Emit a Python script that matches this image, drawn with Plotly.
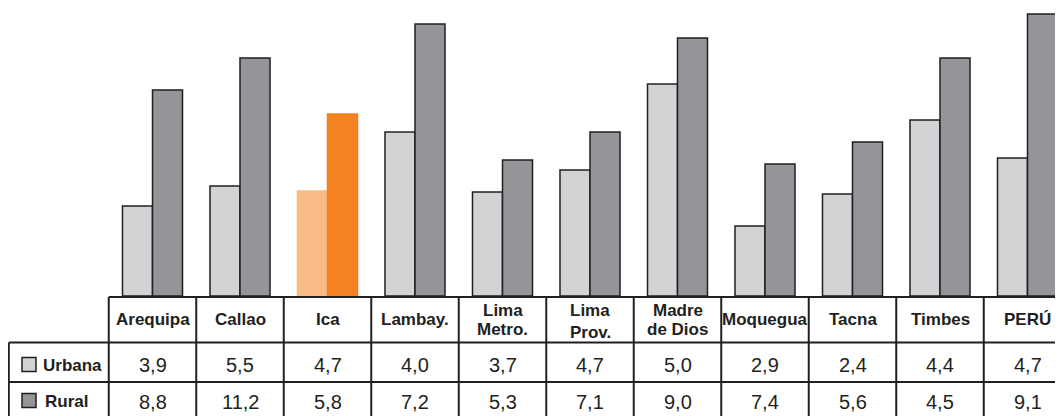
import plotly.graph_objects as go

# ---------------- data ----------------
categories = ["Arequipa", "Callao", "Ica", "Lambay.", "Lima Metro.", "Lima Prov.",
              "Madre de Dios", "Moquegua", "Tacna", "Timbes", "PERÚ"]
header_lines = [["Arequipa"], ["Callao"], ["Ica"], ["Lambay."], ["Lima", "Metro."],
                ["Lima", "Prov."], ["Madre", "de Dios"], ["Moquegua"], ["Tacna"],
                ["Timbes"], ["PERÚ"]]
# values printed in the table
urbana_table = [3.9, 5.5, 4.7, 4.0, 3.7, 4.7, 5.0, 2.9, 2.4, 4.4, 4.7]
rural_table = [8.8, 11.2, 5.8, 7.2, 5.3, 7.1, 9.0, 7.4, 5.6, 4.5, 9.1]
# bar heights as drawn (arbitrary units)
urbana_bars = [4.5, 5.5, 5.25, 8.2, 5.2, 6.3, 10.6, 3.5, 5.1, 8.8, 6.9]
rural_bars = [10.3, 11.9, 9.1, 13.6, 6.8, 8.2, 12.9, 6.6, 7.7, 11.9, 14.1]
row_names = ["Urbana", "Rural"]
highlight = "Ica"

# ---------------- style ----------------
PAGE_OFF = 8             # default body margin of the html page
SW, SH = 1063, 416       # screen size
W, H = SW - PAGE_OFF, SH - PAGE_OFF
URB = "#d1d3d4"
RUR = "#939598"
URB_HI = "#f9bc87"
RUR_HI = "#f58220"
EDGE = "#231f20"
FONT = "Liberation Sans Narrow, Arial Narrow, Liberation Sans, Arial, sans-serif"

# screen-pixel mapping for x axis: screen_px = X0 + STEP * index
X0, STEP = 152.5, 87.5
BASE_PX = 296  # bar baseline, screen pixels from top
PX_PER_UNIT = 20
Y_MAX = (BASE_PX - PAGE_OFF) / PX_PER_UNIT


def py(p):
    """screen y pixel -> paper fraction"""
    return 1 - (p - PAGE_OFF) / H


def xi(px):
    """screen x pixel -> x data coordinate"""
    return (px - X0) / STEP


x_range = [xi(PAGE_OFF), xi(PAGE_OFF + W)]

n = len(categories)
idx = list(range(n))
hi = categories.index(highlight)

urb_colors = [URB_HI if i == hi else URB for i in idx]
rur_colors = [RUR_HI if i == hi else RUR for i in idx]
urb_line = [URB_HI if i == hi else EDGE for i in idx]
rur_line = [RUR_HI if i == hi else EDGE for i in idx]

fig = go.Figure()
fig.add_trace(go.Bar(x=idx, y=urbana_bars, name=row_names[0],
                     marker=dict(color=urb_colors, line=dict(color=urb_line, width=1.5))))
fig.add_trace(go.Bar(x=idx, y=rural_bars, name=row_names[1],
                     marker=dict(color=rur_colors, line=dict(color=rur_line, width=1.5))))

shapes = []
line_style = dict(color=EDGE, width=2)
TOP, ROW1, ROW2, BOT = 297, 342.5, 382, 430
right = xi(SW + 20)
for b in range(n + 1):
    shapes.append(dict(type="line", xref="x", yref="paper", x0=b - 0.5, x1=b - 0.5,
                       y0=py(TOP), y1=py(BOT), line=line_style))
shapes.append(dict(type="line", xref="x", yref="paper", x0=-0.5, x1=right,
                   y0=py(TOP), y1=py(TOP), line=line_style))
left = xi(8.8)
for yy in (ROW1, ROW2):
    shapes.append(dict(type="line", xref="x", yref="paper", x0=left, x1=right,
                       y0=py(yy), y1=py(yy), line=line_style))
shapes.append(dict(type="line", xref="x", yref="paper", x0=left, x1=left,
                   y0=py(ROW1), y1=py(BOT), line=line_style))

# legend swatches in row headers
for (yc, col) in ((364.5, URB), (400.5, RUR)):
    shapes.append(dict(type="rect", xref="x", yref="paper", x0=xi(22), x1=xi(36),
                       y0=py(yc - 7), y1=py(yc + 7), fillcolor=col,
                       line=dict(color=EDGE, width=1.5)))

annotations = []
HEAD_SIZE = 17
for i, lines in enumerate(header_lines):
    if len(lines) == 1:
        ys = [319]
    else:
        ys = [310, 329 if lines[1] != "Prov." else 332]
    for t, yy in zip(lines, ys):
        annotations.append(dict(x=i, y=py(yy), xref="x", yref="paper", text=t,
                                showarrow=False, xanchor="center", yanchor="middle",
                                font=dict(family=FONT, size=HEAD_SIZE, color=EDGE,
                                          weight="bold")))


def fmt(v):
    return f"{v:.1f}".replace(".", ",")


for vals, yy in ((urbana_table, 365), (rural_table, 402)):
    for i, v in enumerate(vals):
        annotations.append(dict(x=i, y=py(yy), xref="x", yref="paper", text=fmt(v),
                                showarrow=False, xanchor="center", yanchor="middle",
                                font=dict(family=FONT, size=20, color=EDGE)))

for name, yy, xx in zip(row_names, (365, 401), (41, 43)):
    annotations.append(dict(x=xi(xx), y=py(yy), xref="x", yref="paper", text=name,
                            showarrow=False, xanchor="left", yanchor="middle",
                            font=dict(family=FONT, size=HEAD_SIZE, color=EDGE,
                                      weight="bold")))

fig.update_layout(
    width=W, height=H,
    margin=dict(l=0, r=0, t=0, b=0),
    paper_bgcolor="white", plot_bgcolor="white",
    barmode="group", bargap=0.314, bargroupgap=0,
    showlegend=False,
    xaxis=dict(visible=False, range=x_range, domain=[0, 1], fixedrange=True),
    yaxis=dict(visible=False, range=[0, Y_MAX],
               domain=[py(BASE_PX), 1], fixedrange=True),
    shapes=shapes,
    annotations=annotations,
)

fig.write_html("out.html")
